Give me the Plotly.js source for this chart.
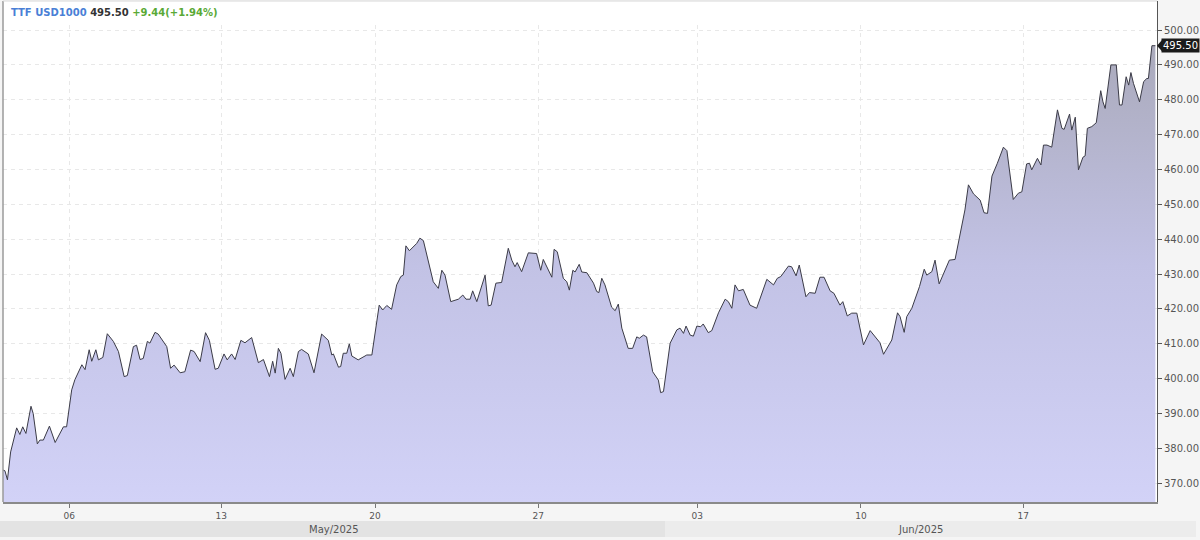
<!DOCTYPE html>
<html>
<head>
<meta charset="utf-8">
<script src="https://cdn.plot.ly/plotly-3.0.1.min.js"></script>
<style>
  html, body { margin: 0; padding: 0; background: #f5f5f5; }
  #chart { width: 1200px; height: 540px; }
</style>
</head>
<body>
<div id="chart"></div>
<script>
// Trading-session hours elapsed since the first bar (x) and the TTF price in USD (y)
const tradingHours = [
  0, 0.6, 1.4, 2.4, 4.3, 5.3, 6.2, 7.2, 8.8, 9.5, 10.8, 11.6, 12.7, 14.6, 16.4, 19.0, 20.0, 21.6, 22.6, 24.8,
  25.8, 27.1, 27.9, 29.2, 30.0, 31.4, 32.8, 34.7, 36.3, 38.1, 39.1, 41.0, 42.0, 43.1, 44.1, 45.4, 46.2, 47.8, 48.8, 51.5,
  52.7, 53.8, 55.7, 57.2, 59.0, 60.1, 62.0, 63.7, 64.9, 66.7, 67.7, 69.5, 70.5, 71.9, 73.0, 74.8, 76.1, 78.2, 80.3, 81.9,
  83.8, 84.8, 85.6, 86.6, 87.4, 88.7, 90.3, 91.3, 92.9, 93.9, 96.0, 97.8, 100.2, 102.3, 103.4, 103.9, 105.5, 106.2, 107.0, 108.1,
  108.9, 109.7, 111.7, 114.4, 116.0, 118.3, 119.4, 120.7, 122.2, 123.8, 125.1, 125.9, 126.7, 127.8, 130.1, 131.1, 132.2, 135.3, 136.9, 138.0,
  139.0, 140.8, 143.2, 144.6, 145.6, 146.9, 147.7, 149.0, 151.6, 152.6, 153.5, 155.0, 156.8, 158.9, 160.0, 161.0, 161.7, 163.1, 165.2, 167.8,
  169.1, 169.9, 172.6, 173.3, 174.3, 176.2, 177.3, 178.1, 179.2, 179.9, 181.2, 182.0, 183.6, 185.7, 186.7, 187.4, 188.3, 189.3, 191.4, 192.5,
  193.5, 194.6, 196.6, 198.0, 199.3, 200.1, 201.4, 202.4, 204.3, 205.4, 206.1, 206.8, 207.7, 209.8, 211.9, 212.9, 214.0, 214.8, 216.1, 217.1,
  218.2, 219.4, 220.2, 221.8, 222.9, 225.0, 227.1, 228.1, 229.2, 230.2, 231.3, 232.8, 234.9, 237.0, 240.2, 242.3, 243.5, 244.6, 247.0, 248.0,
  249.4, 250.4, 252.5, 253.6, 255.4, 256.9, 258.2, 260.1, 261.3, 263.2, 264.1, 265.5, 266.9, 268.5, 270.6, 272.7, 274.2, 275.8, 276.9, 278.4,
  279.5, 281.3, 282.1, 283.4, 284.2, 285.8, 288.2, 289.7, 290.5, 292.1, 293.1, 294.4, 295.7, 297.6, 299.4, 301.0, 302.5, 303.6, 305.2, 307.3,
  308.5, 309.6, 311.0, 312.7, 314.6, 315.7, 317.7, 319.3, 320.4, 321.9, 322.8, 323.5, 325.3, 326.4, 327.2, 328.3, 329.8, 331.6, 333.0, 333.7,
  335.4, 336.1, 337.2, 338.2, 339.6, 340.3, 341.0, 342.4, 343.8, 345.2, 345.9, 346.6, 348.4, 350.1, 351.1, 351.9, 353.2, 354.0, 354.7, 355.5,
  357.4, 358.7, 359.7, 360.2, 361.3, 362.4
];
const price = [
  373.8, 373.6, 371.0, 379.0, 385.9, 384.0, 386.2, 384.3, 392.1, 390.0, 381.3, 382.4, 382.4, 386.4, 381.7, 386.2, 386.2, 396.8, 399.7, 404.0,
  402.6, 408.3, 405.0, 408.3, 405.4, 406.1, 412.9, 410.7, 407.8, 400.6, 400.9, 409.2, 409.6, 405.5, 405.8, 410.7, 410.2, 413.3, 412.8, 409.2,
  403.0, 403.9, 401.7, 402.0, 408.2, 407.8, 404.9, 413.2, 411.0, 402.7, 403.0, 407.1, 405.4, 407.1, 405.5, 411.0, 410.3, 411.8, 404.6, 405.5,
  400.6, 405.0, 401.6, 408.7, 407.3, 399.8, 403.0, 400.6, 407.8, 408.4, 407.1, 401.7, 412.8, 411.0, 406.8, 407.1, 403.3, 403.5, 407.3, 407.3,
  410.0, 406.5, 405.4, 406.8, 406.8, 421.1, 419.7, 421.0, 419.9, 426.9, 429.3, 429.7, 438.1, 436.7, 438.8, 440.3, 439.6, 427.8, 425.9, 431.1,
  429.7, 422.1, 422.8, 424.0, 422.8, 422.8, 425.2, 422.1, 429.7, 420.9, 421.1, 427.4, 427.6, 437.4, 434.0, 432.1, 433.3, 430.7, 436.1, 435.9,
  431.1, 434.2, 429.1, 437.1, 436.4, 428.8, 427.8, 425.4, 431.1, 430.6, 432.8, 430.6, 430.4, 427.4, 425.0, 424.7, 428.8, 426.9, 420.5, 419.5,
  421.4, 414.5, 408.7, 408.7, 412.0, 411.6, 412.5, 412.0, 402.0, 400.6, 399.6, 396.0, 396.3, 410.2, 414.0, 414.5, 413.0, 415.1, 412.5, 412.2,
  415.1, 414.9, 415.7, 413.2, 413.8, 418.9, 422.8, 422.1, 420.2, 426.9, 425.2, 425.6, 421.1, 420.2, 428.5, 426.9, 428.8, 429.3, 432.3, 432.1,
  429.5, 432.6, 423.5, 424.7, 424.5, 429.1, 429.1, 425.2, 424.5, 421.1, 422.1, 418.0, 418.8, 418.8, 409.7, 413.8, 412.2, 410.3, 407.0, 409.4,
  411.1, 418.9, 417.8, 413.3, 417.8, 420.2, 426.4, 431.4, 429.7, 430.7, 434.0, 427.2, 430.2, 434.0, 434.2, 441.2, 448.4, 455.6, 453.0, 451.2,
  447.6, 447.4, 458.1, 461.8, 466.4, 465.4, 451.4, 453.2, 453.6, 461.6, 461.8, 459.9, 463.2, 461.3, 467.0, 467.0, 466.4, 477.1, 471.8, 471.5,
  475.9, 471.3, 475.0, 459.9, 463.5, 463.9, 471.8, 472.3, 473.4, 482.6, 479.4, 477.5, 490.0, 490.0, 478.5, 478.5, 486.6, 484.2, 487.8, 484.7,
  479.4, 485.2, 486.1, 486.1, 495.5, 495.5
];
// Day markers on the session axis
const tickHours = [20.8, 68.6, 117.0, 168.3, 218.3, 269.8, 320.8];
const tickLabels = ['06', '13', '20', '27', '03', '10', '17'];
const monthLabels = ['May/2025', 'Jun/2025'];
const lastPrice = 495.50;
const change = 9.44;
const changePct = 1.94;
const instrument = 'TTF USD1000';

// pixel -> paper helpers for the 1200x540 canvas (plot area 3..1157 x 1..502)
const PL = 3, PR = 1157, PT = 1, PB = 502;
const px = v => (v - PL) / (PR - PL);
const py = v => (PB - v) / (PB - PT);

const trace = {
  x: tradingHours,
  y: price,
  type: 'scatter',
  mode: 'lines',
  line: { color: '#3b3b47', width: 1 },
  fill: 'tozeroy',
  fillgradient: {
    type: 'vertical',
    start: 364.6,
    stop: 500,
    colorscale: [[0, '#d2d2f7'], [0.5, '#c2c2e5'], [1, '#a8a8b8']]
  },
  hoverinfo: 'skip'
};

const font = "'DejaVu Sans', Verdana, sans-serif";

const layout = {
  width: 1200,
  height: 540,
  margin: { l: PL, r: 1200 - PR, t: PT, b: 540 - PB, pad: 0 },
  paper_bgcolor: '#f5f5f5',
  plot_bgcolor: '#ffffff',
  showlegend: false,
  font: { family: font, size: 10, color: '#555' },
  xaxis: {
    type: 'linear',
    range: [0, 362.9],
    tickmode: 'array',
    tickvals: tickHours,
    ticktext: tickLabels,
    ticks: 'outside',
    ticklen: 4,
    tickcolor: '#777',
    tickfont: { family: font, size: 9, color: '#555' },
    showgrid: true,
    gridcolor: '#e8e8e8',
    griddash: '4px,4px',
    gridwidth: 1,
    showline: true,
    linecolor: '#8a8a8a',
    linewidth: 2,
    mirror: false,
    zeroline: false,
    fixedrange: true
  },
  yaxis: {
    side: 'right',
    range: [364.64, 508.32],
    tick0: 0,
    dtick: 10,
    tickformat: '.2f',
    ticks: 'outside',
    ticklen: 4,
    tickcolor: '#555',
    tickfont: { family: font, size: 10, color: '#555' },
    showgrid: true,
    gridcolor: '#e8e8e8',
    griddash: '4px,4px',
    gridwidth: 1,
    showline: true,
    linecolor: '#555',
    linewidth: 1,
    zeroline: false,
    fixedrange: true
  },
  shapes: [
    // header strip (grid starts below the title line)
    { type: 'rect', xref: 'paper', yref: 'paper', x0: px(4), x1: px(1156.5), y0: py(22), y1: py(1), fillcolor: '#ffffff', line: { width: 0 }, layer: 'above' },
    // left and top frame of plot
    { type: 'line', xref: 'paper', yref: 'paper', x0: 0, x1: 0, y0: 0, y1: 1, line: { color: '#9a9a9a', width: 1.5 } },
    { type: 'line', xref: 'paper', yref: 'paper', x0: 0, x1: 1, y0: 1, y1: 1, line: { color: '#d8d8d8', width: 1 } },
    // month bands
    { type: 'rect', xref: 'paper', yref: 'paper', x0: px(0), x1: px(665), y0: py(537), y1: py(521), fillcolor: '#e3e3e3', line: { width: 0 }, layer: 'below' },
    { type: 'rect', xref: 'paper', yref: 'paper', x0: px(665), x1: px(1196), y0: py(537), y1: py(521), fillcolor: '#ececec', line: { width: 0 }, layer: 'below' },
    // last price pointer
    { type: 'path', xref: 'paper', yref: 'y', path: `M ${px(1157)} ${lastPrice} L ${px(1162)} ${lastPrice + 1.6} L ${px(1162)} ${lastPrice - 1.6} Z`, fillcolor: '#1b1b1b', line: { width: 0 } }
  ],
  annotations: [
    {
      xref: 'paper', yref: 'paper', x: px(9), y: py(12), xanchor: 'left', yanchor: 'middle', showarrow: false,
      text: `<b><span style="color:#4a7fd6">${instrument}</span> <span style="color:#333333">${lastPrice.toFixed(2)}</span> <span style="color:#5aa936">+${change.toFixed(2)}(+${changePct.toFixed(2)}%)</span></b>`,
      font: { family: font, size: 10 }
    },
    {
      xref: 'paper', yref: 'paper', x: px(334), y: py(529), xanchor: 'center', yanchor: 'middle', showarrow: false,
      text: monthLabels[0], font: { family: font, size: 10, color: '#555' }
    },
    {
      xref: 'paper', yref: 'paper', x: px(920), y: py(529), xanchor: 'center', yanchor: 'middle', showarrow: false,
      text: monthLabels[1], font: { family: font, size: 10, color: '#555' }
    },
    {
      xref: 'paper', yref: 'y', x: px(1161), y: lastPrice, xanchor: 'left', yanchor: 'middle', showarrow: false,
      text: lastPrice.toFixed(2), bgcolor: '#1b1b1b', borderpad: 1,
      font: { family: font, size: 10, color: '#ffffff' }
    }
  ]
};

Plotly.newPlot('chart', [trace], layout, { displayModeBar: false, staticPlot: true });
</script>
</body>
</html>
